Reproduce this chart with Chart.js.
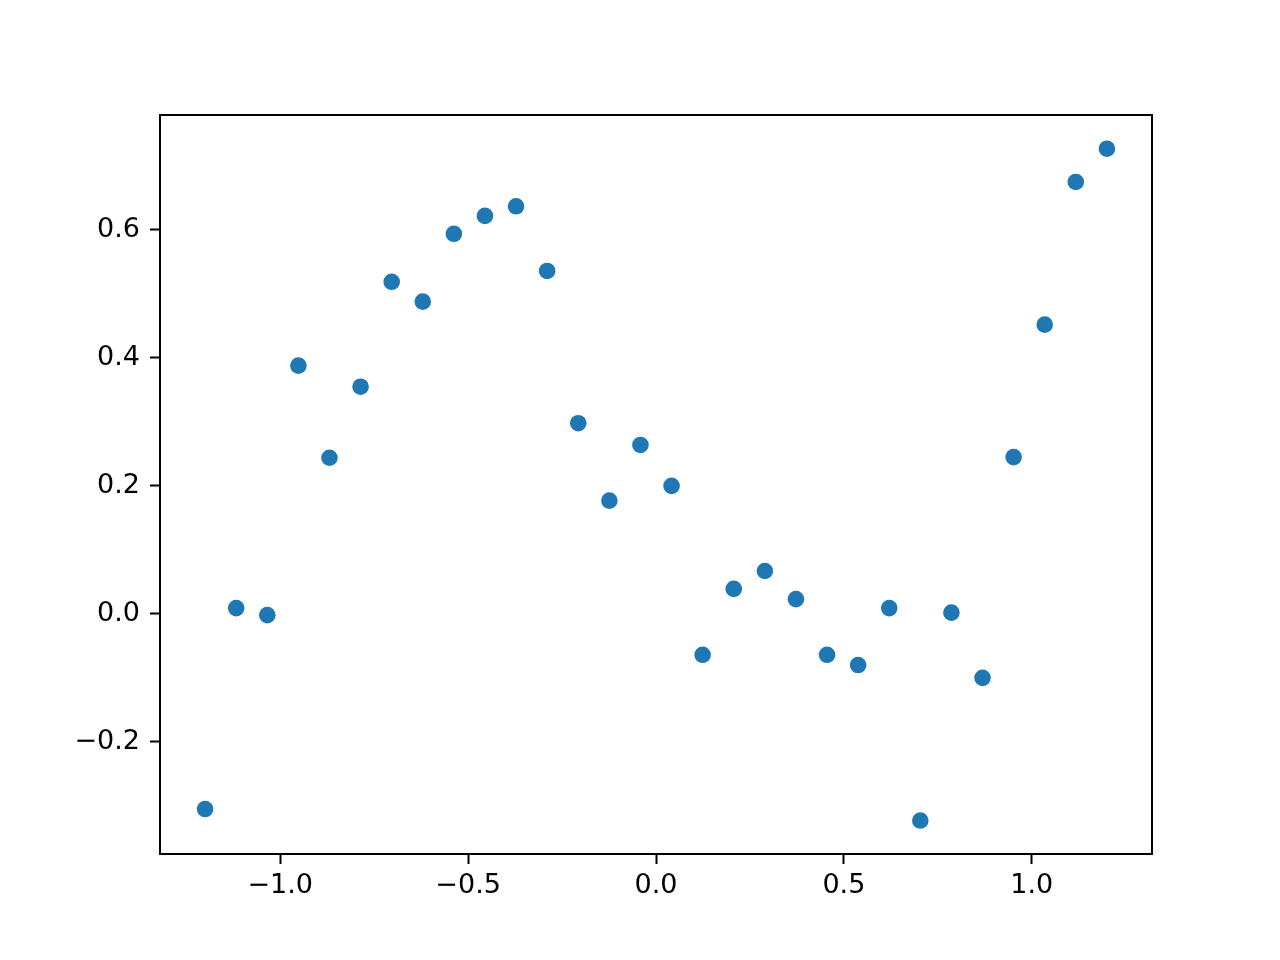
<!DOCTYPE html>
<html>
<head>
<meta charset="utf-8">
<script src="https://cdn.jsdelivr.net/npm/chart.js@4/dist/chart.umd.min.js"></script>
<style>
  html, body { margin: 0; padding: 0; background: #fff; }
  #wrap { width: 1280px; height: 960px; }
</style>
</head>
<body>
<div id="wrap"><canvas id="c" width="1280" height="960"></canvas></div>
<script>
// values
const xValues = [-1.2, -1.1172, -1.0345, -0.9517, -0.8690, -0.7862, -0.7034, -0.6207, -0.5379, -0.4552,
  -0.3724, -0.2897, -0.2069, -0.1241, -0.0414, 0.0414, 0.1241, 0.2069, 0.2897, 0.3724,
  0.4552, 0.5379, 0.6207, 0.7034, 0.7862, 0.8690, 0.9517, 1.0345, 1.1172, 1.2];
const yValues = [-0.305, 0.009, -0.002, 0.388, 0.244, 0.355, 0.519, 0.488, 0.594, 0.622,
  0.637, 0.536, 0.298, 0.177, 0.264, 0.200, -0.064, 0.039, 0.067, 0.023,
  -0.064, -0.080, 0.009, -0.323, 0.002, -0.100, 0.245, 0.452, 0.675, 0.727];
const xTicks = [-1.0, -0.5, 0.0, 0.5, 1.0];
const yTicks = [-0.2, 0.0, 0.2, 0.4, 0.6];

const points = xValues.map((x, i) => ({ x: x, y: yValues[i] }));

const fmt = v => {
  let s = Number(v).toFixed(1);
  if (s === `-0.0`) s = `0.0`;
  return s.replace(`-`, `\u2212`);
};

const frame = {
  id: `frame`,
  afterDraw(chart) {
    const a = chart.chartArea;
    const ctx = chart.ctx;
    ctx.save();
    ctx.strokeStyle = `#000`;
    ctx.lineWidth = 2;
    ctx.strokeRect(a.left, a.top, a.right - a.left, a.bottom - a.top);
    ctx.restore();
  }
};

const tickFont = { family: `"DejaVu Sans"`, size: 27 };

new Chart(document.getElementById(`c`).getContext(`2d`), {
  type: `scatter`,
  data: {
    datasets: [{
      data: points,
      backgroundColor: `#1f77b4`,
      borderColor: `#1f77b4`,
      borderWidth: 0,
      pointRadius: 8.3,
      pointHoverRadius: 8.3
    }]
  },
  options: {
    responsive: false,
    animation: false,
    events: [],
    layout: { padding: { left: 0, right: 128, top: 115, bottom: 0 } },
    plugins: { legend: { display: false }, tooltip: { enabled: false } },
    scales: {
      x: {
        type: `linear`,
        min: -1.32,
        max: 1.32,
        afterBuildTicks: s => { s.ticks = xTicks.map(v => ({ value: v })); },
        afterFit: s => { s.height = 106; },
        grid: { drawOnChartArea: false, drawTicks: true, tickLength: 10, tickWidth: 2, tickColor: `#000` },
        border: { display: true, color: `#000`, width: 2 },
        ticks: { color: `#000`, font: tickFont, padding: 6, maxRotation: 0, callback: v => fmt(v) }
      },
      y: {
        type: `linear`,
        min: -0.3753,
        max: 0.7797,
        afterBuildTicks: s => { s.ticks = yTicks.map(v => ({ value: v })); },
        afterFit: s => { s.width = 160; },
        grid: { drawOnChartArea: false, drawTicks: true, tickLength: 10, tickWidth: 2, tickColor: `#000` },
        border: { display: true, color: `#000`, width: 2 },
        ticks: { color: `#000`, font: tickFont, padding: 10, callback: v => fmt(v) }
      }
    }
  },
  plugins: [frame]
});
</script>
</body>
</html>
